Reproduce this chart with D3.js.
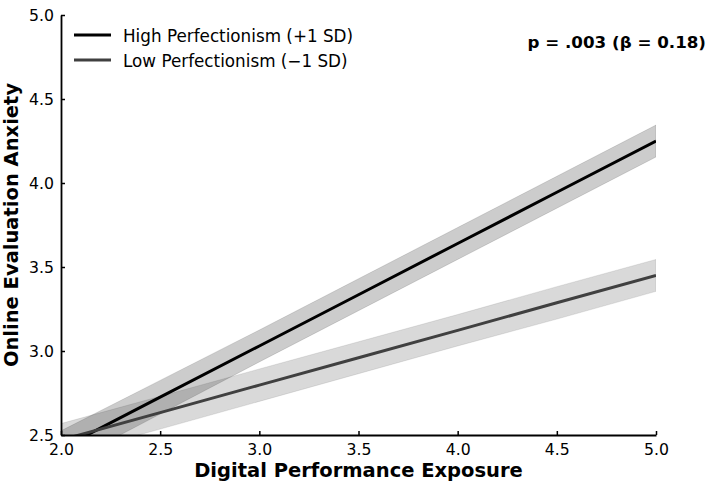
<!DOCTYPE html>
<html>
<head>
<meta charset="utf-8">
<script src="https://cdn.jsdelivr.net/npm/d3@7"></script>
<style>
  html, body { margin: 0; padding: 0; background: #fff; }
  svg { display: block; font-family: "DejaVu Sans", sans-serif; }
</style>
</head>
<body>
<svg id="chart" width="709" height="488"></svg>
<script>
// ---- data ----
const exposure = [2.0, 2.5, 3.0, 3.5, 4.0, 4.5, 5.0];
const highMean = [2.42, 2.725, 3.03, 3.335, 3.64, 3.945, 4.25];
const highLower = [2.315, 2.625, 2.935, 3.24, 3.545, 3.85, 4.155];
const highUpper = [2.525, 2.825, 3.125, 3.43, 3.735, 4.04, 4.345];
const lowMean = [2.47, 2.633, 2.797, 2.96, 3.123, 3.287, 3.45];
const lowLower = [2.372, 2.535, 2.70, 2.865, 3.03, 3.19, 3.355];
const lowUpper = [2.568, 2.73, 2.893, 3.055, 3.217, 3.383, 3.545];
const xTicks = [2.0, 2.5, 3.0, 3.5, 4.0, 4.5, 5.0];
const yTicks = [2.5, 3.0, 3.5, 4.0, 4.5, 5.0];
const seriesNames = ["High Perfectionism (+1 SD)", "Low Perfectionism (\u22121 SD)"];
const annotation = "p = .003 (\u03b2 = 0.18)";
const xTitle = "Digital Performance Exposure";
const yTitle = "Online Evaluation Anxiety";

// ---- layout ----
const svg = d3.select("#chart");
const mLeft = 61, mRight = 656, mTop = 15, mBottom = 435;
const x = d3.scaleLinear().domain([2, 5]).range([mLeft, mRight]);
const y = d3.scaleLinear().domain([2.5, 5]).range([mBottom, mTop]);

svg.append("defs").append("clipPath").attr("id", "plotclip")
  .append("rect").attr("x", mLeft).attr("y", mTop)
  .attr("width", mRight - mLeft).attr("height", mBottom - mTop);

const plot = svg.append("g").attr("clip-path", "url(#plotclip)");

const series = [
  { mean: highMean, lo: highLower, hi: highUpper, line: "#000000", band: "#000000", bandOp: 0.2, name: seriesNames[0] },
  { mean: lowMean, lo: lowLower, hi: lowUpper, line: "#404040", band: "#404040", bandOp: 0.2, name: seriesNames[1] }
];

const area = d3.area().x((d) => x(d.x)).y0((d) => y(d.lo)).y1((d) => y(d.hi));
const line = d3.line().x((d) => x(d.x)).y((d) => y(d.m));

series.forEach((s) => {
  const pts = exposure.map((xv, i) => ({ x: xv, lo: s.lo[i], hi: s.hi[i], m: s.mean[i] }));
  plot.append("path").datum(pts).attr("d", area)
    .attr("fill", s.band).attr("fill-opacity", s.bandOp)
    .attr("stroke", s.band).attr("stroke-opacity", 0.12).attr("stroke-width", 1);
});
series.forEach((s) => {
  const pts = exposure.map((xv, i) => ({ x: xv, m: s.mean[i] }));
  plot.append("path").datum(pts).attr("d", line)
    .attr("fill", "none").attr("stroke", s.line).attr("stroke-width", 3);
});

// ---- axes ----
const fmt = d3.format(".1f");
const xAxis = svg.append("g").attr("transform", `translate(0,${mBottom})`)
  .call(d3.axisBottom(x).tickValues(xTicks).tickFormat(fmt).tickSizeInner(-4).tickSizeOuter(0).tickPadding(9));
const yAxis = svg.append("g").attr("transform", `translate(${mLeft},0)`)
  .call(d3.axisLeft(y).tickValues(yTicks).tickFormat(fmt).tickSizeInner(-4).tickSizeOuter(0).tickPadding(7));
[xAxis, yAxis].forEach((g) => {
  g.select(".domain").attr("stroke", "#000").attr("stroke-width", 1.8);
  g.selectAll(".tick line").attr("stroke", "#000").attr("stroke-width", 1.5);
  g.selectAll(".tick text").attr("fill", "#000").style("font-size", "15.7px")
    .style("font-family", "'DejaVu Sans', sans-serif");
});

// ---- titles ----
svg.append("text").attr("x", (mLeft + mRight) / 2).attr("y", 477)
  .attr("text-anchor", "middle").style("font-size", "19.5px").style("font-weight", "bold")
  .text(xTitle);
svg.append("text").attr("transform", `translate(18,${(mTop + mBottom) / 2}) rotate(-90)`)
  .attr("text-anchor", "middle").style("font-size", "19.5px").style("font-weight", "bold")
  .text(yTitle);

// ---- annotation ----
svg.append("text").attr("x", 706).attr("y", 48).attr("text-anchor", "end")
  .style("font-size", "16.7px").style("font-weight", "bold").text(annotation);

// ---- legend ----
const legend = svg.append("g");
series.forEach((s, i) => {
  const ly = 35 + i * 25;
  legend.append("line").attr("x1", 74).attr("x2", 111).attr("y1", ly).attr("y2", ly)
    .attr("stroke", s.line).attr("stroke-width", 3);
  legend.append("text").attr("x", 123).attr("y", ly + 7)
    .style("font-size", "16.8px").attr("fill", "#000").text(s.name);
});
</script>
</body>
</html>
